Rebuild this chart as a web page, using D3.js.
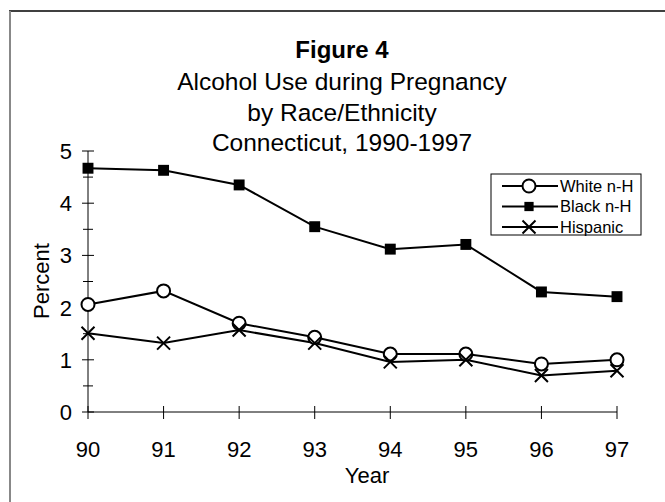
<!DOCTYPE html>
<html lang="en">
<head>
<meta charset="UTF-8">
<title>Figure 4</title>
<script src="https://d3js.org/d3.v7.min.js"></script>
<style>
  html, body { margin: 0; padding: 0; background: #fff; }
  svg { display: block; font-family: Arial, "Liberation Sans", sans-serif; }
</style>
</head>
<body>
<div id="vis"></div>
<script>
// chart data
var years = ['90', '91', '92', '93', '94', '95', '96', '97'];
var white = [2.06, 2.32, 1.70, 1.43, 1.11, 1.11, 0.92, 1.00];
var black = [4.67, 4.63, 4.35, 3.55, 3.12, 3.21, 2.30, 2.21];
var hispanic = [1.51, 1.32, 1.57, 1.32, 0.96, 1.00, 0.70, 0.79];
var yTicks = [0, 1, 2, 3, 4, 5];
var yMinor = [0.5, 1.5, 2.5, 3.5, 4.5];
var titleLines = ['Alcohol Use during Pregnancy', 'by Race/Ethnicity', 'Connecticut, 1990-1997'];

var series = [
  { name: 'White n-H', values: white, marker: 'circle' },
  { name: 'Black n-H', values: black, marker: 'square' },
  { name: 'Hispanic', values: hispanic, marker: 'cross' }
];

var W = 665, H = 502;
var svg = d3.select('#vis').append('svg')
  .attr('width', W)
  .attr('height', H);

// frame (only top and left edges show)
svg.append('line').attr('x1', 9).attr('x2', W).attr('y1', 11).attr('y2', 11)
  .attr('stroke', '#000').attr('stroke-width', 1.5);
svg.append('line').attr('x1', 10).attr('x2', 10).attr('y1', 11).attr('y2', H)
  .attr('stroke', '#888').attr('stroke-width', 2);

var x = d3.scalePoint().domain(years).range([88, 617]);
var y = d3.scaleLinear().domain([0, 5]).range([412, 151]);

// titles
svg.append('text')
  .attr('x', 342).attr('y', 58)
  .attr('text-anchor', 'middle')
  .style('font-size', '24px').style('font-weight', 'bold')
  .text('Figure 4');
svg.selectAll('.subtitle').data(titleLines).enter().append('text')
  .attr('class', 'subtitle')
  .attr('x', 342)
  .attr('y', function(d, i) { return 90 + i * 30.5; })
  .attr('text-anchor', 'middle')
  .style('font-size', '24.5px')
  .text(function(d) { return d; });

// y axis
var yAxis = svg.append('g').attr('transform', 'translate(' + x('90') + ',0)');
yAxis.append('line').attr('x1', 0).attr('x2', 0)
  .attr('y1', y(0)).attr('y2', y(5)).attr('stroke', '#000');
yAxis.selectAll('.ymaj').data(yTicks).enter().append('line')
  .attr('x1', -6).attr('x2', 6)
  .attr('y1', function(d) { return y(d); }).attr('y2', function(d) { return y(d); })
  .attr('stroke', '#000');
yAxis.selectAll('.ymin').data(yMinor).enter().append('line')
  .attr('x1', -5).attr('x2', 5)
  .attr('y1', function(d) { return y(d); }).attr('y2', function(d) { return y(d); })
  .attr('stroke', '#000');
yAxis.selectAll('.ylab').data(yTicks).enter().append('text')
  .attr('x', -16)
  .attr('y', function(d) { return y(d); })
  .attr('dy', '0.36em')
  .attr('text-anchor', 'end')
  .style('font-size', '22px')
  .text(function(d) { return d; });

// x axis
var xAxis = svg.append('g').attr('transform', 'translate(0,' + y(0) + ')');
xAxis.append('line').attr('x1', x('90')).attr('x2', x('97'))
  .attr('y1', 0).attr('y2', 0).attr('stroke', '#000');
xAxis.selectAll('.xt').data(years).enter().append('line')
  .attr('x1', function(d) { return x(d); }).attr('x2', function(d) { return x(d); })
  .attr('y1', -6).attr('y2', 7).attr('stroke', '#000');
xAxis.selectAll('.xlab').data(years).enter().append('text')
  .attr('x', function(d) { return x(d); })
  .attr('y', 45)
  .attr('text-anchor', 'middle')
  .style('font-size', '22px')
  .text(function(d) { return d; });

// axis titles
svg.append('text')
  .attr('transform', 'translate(41,281) rotate(-90)')
  .attr('dy', '0.36em')
  .attr('text-anchor', 'middle')
  .style('font-size', '22px')
  .text('Percent');
svg.append('text')
  .attr('x', 367).attr('y', 483)
  .attr('text-anchor', 'middle')
  .style('font-size', '22px')
  .text('Year');

function drawMarker(g, type, size) {
  if (type === 'circle') {
    g.append('circle').attr('r', size / 2)
      .attr('fill', '#fff').attr('stroke', '#000').attr('stroke-width', 2);
  } else if (type === 'square') {
    g.append('rect').attr('x', -size * 0.42).attr('y', -size * 0.42)
      .attr('width', size * 0.84).attr('height', size * 0.84).attr('fill', '#000');
  } else {
    var h = size / 2;
    g.append('path').attr('d', 'M' + (-h) + ',' + (-h) + 'L' + h + ',' + h + 'M' + (-h) + ',' + h + 'L' + h + ',' + (-h))
      .attr('stroke', '#000').attr('stroke-width', 2).attr('fill', 'none');
  }
}

var line = d3.line()
  .x(function(d, i) { return x(years[i]); })
  .y(function(d) { return y(d); });

series.forEach(function(s) {
  svg.append('path')
    .attr('d', line(s.values))
    .attr('fill', 'none')
    .attr('stroke', '#000')
    .attr('stroke-width', 2);
});
series.forEach(function(s) {
  s.values.forEach(function(v, i) {
    var g = svg.append('g').attr('transform', 'translate(' + x(years[i]) + ',' + y(v) + ')');
    drawMarker(g, s.marker, 13);
  });
});

// legend
var legend = svg.append('g').attr('transform', 'translate(491,174)');
legend.append('rect').attr('x', 0).attr('y', 0).attr('width', 150).attr('height', 61)
  .attr('fill', '#fff').attr('stroke', '#000').attr('stroke-width', 1);
series.forEach(function(s, i) {
  var row = legend.append('g').attr('transform', 'translate(0,' + (12 + i * 20.5) + ')');
  row.append('line').attr('x1', 11).attr('x2', 67).attr('y1', 0).attr('y2', 0)
    .attr('stroke', '#000').attr('stroke-width', 2);
  var m = row.append('g').attr('transform', 'translate(38,0)');
  drawMarker(m, s.marker, s.marker === 'square' ? 11 : 13);
  row.append('text').attr('x', 69).attr('y', 0).attr('dy', '0.36em')
    .style('font-size', '16.5px')
    .text(s.name);
});
</script>
</body>
</html>
